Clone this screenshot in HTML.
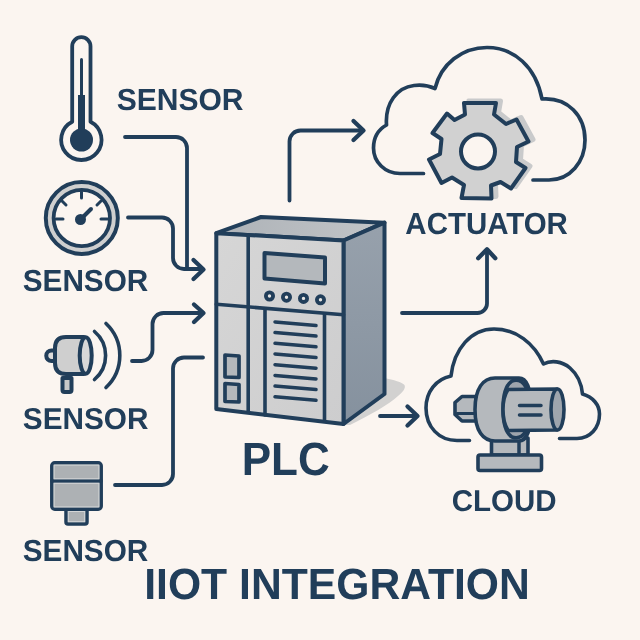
<!DOCTYPE html>
<html lang="en">
<head>
<meta charset="utf-8">
<title>IIOT Integration</title>
<style>
html,body{margin:0;padding:0;background:#fbf5f0;}
body{width:640px;height:640px;overflow:hidden;}
svg{display:block;will-change:transform;}
text{font-family:"Liberation Sans",sans-serif;font-weight:bold;fill:#213e5a;text-rendering:geometricPrecision;}
.ln{fill:none;stroke:#213e5a;stroke-width:4;stroke-linecap:round;stroke-linejoin:round;}
#connectors{stroke-width:3.8px;}
#connectors .ah{stroke-width:4.3px;}
#cloud .st,#cloud .ln{stroke-width:3.6px;}
.st{stroke:#213e5a;stroke-width:4;stroke-linejoin:round;stroke-linecap:round;}
</style>
</head>
<body>
<svg width="640" height="640" viewBox="0 0 640 640">
<rect width="640" height="640" fill="#fbf5f0"/>

<path d="M384 378 C394 380 402 382 404.5 385 C406 388 403 392 398 396 C388 405 370 415 350 425 L344 425 Z" fill="#d2d1d0"/>

<!-- connectors -->
<g class="ln" id="connectors">
  <path d="M125 137 H176 A11 11 0 0 1 187 148 V269"/>
  <path d="M128 217.5 H162 A11 11 0 0 1 173 228.5 V258 A11 11 0 0 0 184 269 H201"/>
  <path class="ah" d="M193.5 260 L203.5 269.5 L193.5 279"/>
  <path d="M132 361 H141.5 A11 11 0 0 0 152.5 350 V324 A11 11 0 0 1 163.5 313 H201"/>
  <path class="ah" d="M194 304.5 L203.5 313 L194 322"/>
  <path d="M115 485 H162 A11 11 0 0 0 173 474 V368.5 A11 11 0 0 1 184 357.5 H203"/>
  <path d="M289.5 200.5 V141.5 A11 11 0 0 1 300.5 130.5 H361"/>
  <path class="ah" d="M353.5 121 L363.5 130.5 L353.5 140"/>
  <path d="M402 313 H477.5 A9.5 9.5 0 0 0 487 303.5 V251.5"/>
  <path class="ah" d="M478.2 258.2 L487 249.3 L495.3 258.2"/>
  <path d="M380 416 H415"/>
  <path class="ah" d="M407.5 406.5 L417.5 416 L407.5 425.5"/>
</g>

<!-- thermometer -->
<g id="thermo">
  <path class="ln" style="stroke-width:3.8px" d="M72.2 121.8 V46.3 A9.15 9.15 0 0 1 90.5 46.3 V121.8 A20.2 20.2 0 1 1 72.2 121.8 Z"/>
  <circle cx="81.5" cy="140" r="11.5" fill="#213e5a"/>
  <rect x="78" y="95" width="7" height="40" fill="#213e5a"/>
  <rect x="80" y="58" width="3" height="40" rx="1.5" fill="#213e5a"/>
</g>

<!-- gauge -->
<g id="gauge">
  <circle cx="81.8" cy="218" r="34" fill="#cfcfcf"/>
  <circle cx="81.8" cy="218" r="36" fill="none" stroke="#213e5a" style="stroke-width:4px"/>
  <circle cx="81.8" cy="218" r="28.2" fill="#fbf5f0" stroke="#213e5a" style="stroke-width:3.8px"/>
  <g class="ln" style="stroke-width:3px">
    <path d="M81.5 192 V198"/>
    <path d="M56 219 H63"/>
    <path d="M101 219 H108"/>
    <path d="M62 201 L66 205"/>
    <path d="M101 201 L97 205"/>
    <path d="M81 219 L91 209" style="stroke-width:4px"/>
  </g>
  <circle cx="80.5" cy="219.5" r="5.5" fill="#213e5a"/>
</g>

<!-- sound sensor -->
<g id="sound">
  <path class="st" fill="#c9c9c9" d="M62.5 378 H71.5 V390 Q71.5 392 69.5 392 H64.5 Q62.5 392 62.5 390 Z"/>
  <path class="st" fill="#dcdbda" d="M56 350.5 H51.5 A5.25 5.25 0 0 0 51.5 361 H56 Z"/>
  <path class="st" fill="#cfcfcf" d="M66 337 H84 V374 H66 Q55 374 55 363 V348 Q55 337 66 337 Z"/>
  <ellipse class="st" cx="85.7" cy="355.5" rx="6" ry="18.3" fill="#d8d8d8"/>
  
  <path class="ln" style="stroke-width:3.6px" d="M94.5 331.5 A31.5 31.5 0 0 1 94.5 379.5"/>
  <path class="ln" style="stroke-width:3.6px" d="M106 323.5 A44 44 0 0 1 106 387.5"/>
</g>

<!-- box sensor -->
<g id="boxsensor">
  <rect class="st" style="stroke-width:3.5px" x="66" y="508" width="21" height="16" rx="2" fill="#adb1b4"/>
  <rect class="st" style="stroke-width:3.5px" x="51.8" y="462.8" width="49.4" height="46.4" rx="3" fill="#adb1b4"/>
  <path class="ln" style="stroke-width:3.5px" d="M52 481 H101"/>
  <g fill="none" stroke="#d3d5d6" style="stroke-width:1px">
    <rect x="54.1" y="465.1" width="44.8" height="13.7"/>
    <rect x="54.1" y="483.3" width="44.8" height="23.6"/>
    <rect x="68.3" y="511.5" width="16.4" height="10.2"/>
  </g>
</g>

<!-- PLC -->
<g id="plc">
  <defs>
    <linearGradient id="gtop" x1="0" y1="0" x2="1" y2="0"><stop offset="0" stop-color="#adb2b7"/><stop offset="1" stop-color="#c2c5c8"/></linearGradient>
    <linearGradient id="gside" x1="0" y1="0" x2="0" y2="1"><stop offset="0" stop-color="#97a1ac"/><stop offset="1" stop-color="#85919e"/></linearGradient>
    <linearGradient id="gfront" x1="0" y1="0" x2="1" y2="1"><stop offset="0" stop-color="#d6d6d6"/><stop offset="1" stop-color="#cdcdce"/></linearGradient>
  </defs>
  <polygon class="st" points="216.3,233.2 261,217 384.5,222.7 343.5,240.5" fill="url(#gtop)"/>
  <polygon class="st" points="343.5,240.5 384.5,222.7 384.5,394 343.5,424" fill="url(#gside)"/>
  <polygon class="st" points="216.3,233.2 343.5,240.5 343.5,424 216.3,409" fill="url(#gfront)"/>
  <g class="ln" style="stroke-width:3.6px">
    <path d="M248.2 235.5 V412"/>
    <path d="M216.3 304.2 L343.5 314.8"/>
    <path d="M265 309.5 V415"/>
    <path d="M324.5 314 V421"/>
  </g>
  <polygon class="st" points="264.5,253 325,257.5 325,283.5 264.5,278.5" fill="#b4b8bc"/>
  <g fill="#e8e6e3" stroke="#213e5a" style="stroke-width:3.8px">
    <circle cx="269.5" cy="296" r="3.6"/>
    <circle cx="286.5" cy="297.2" r="3.6"/>
    <circle cx="303.5" cy="298.4" r="3.6"/>
    <circle cx="320.5" cy="299.8" r="3.6"/>
  </g>
  <g class="ln" style="stroke-width:3.5px">
    <path d="M275 322 L316 325.5"/>
    <path d="M275 332.6 L316 336.1"/>
    <path d="M275 343.3 L316 346.8"/>
    <path d="M275 354 L316 357.5"/>
    <path d="M275 364.7 L316 368.2"/>
    <path d="M275 375.4 L316 378.9"/>
    <path d="M275 386.1 L316 389.6"/>
    <path d="M275 396.8 L316 400.3"/>
  </g>
  <polygon class="st" style="stroke-width:3.7px" points="225,355 239,356 239,377.5 225,377" fill="#b4b8bc"/>
  <polygon class="st" style="stroke-width:3.7px" points="225,383.5 239,384.5 239,402 225,401.5" fill="#b4b8bc"/>
</g>

<!-- actuator cloud -->
<g id="actuator">
  <path class="ln" style="stroke-width:3.7px" d="M423.5 173.5 H400 C385 173.5 373.5 162 373.5 148 C373.5 137 378.5 129.5 386.5 125 C385 103 397 87.5 414 85.5 C422 84.5 429.5 86 435 88.5 C441 64 462 47.5 487 47.5 C514 47.5 536 67 542 99 C568 97 585 116 585 140 C585 162 570 180 549 180 H533"/>
  <clipPath id="gsh"><rect x="462" y="90" width="80" height="120"/></clipPath>
  <polygon points="464,103 496,103 494,114.5 506,124 516.5,119.5 528.5,141.5 517,147 516,162 525.5,168 511,188.5 500.5,182 491,185.5 491.5,198.5 461.5,198 464,185 452,177.5 441.5,183 429,159.5 440,154 441.5,139 432.5,133 447,113.5 454.5,120 465,114.5" fill="#c9cacb" stroke="#c9cacb" style="stroke-width:5px" stroke-linejoin="round" transform="translate(4.5,-2)" clip-path="url(#gsh)"/>
  <polygon class="st" points="464,103 496,103 494,114.5 506,124 516.5,119.5 528.5,141.5 517,147 516,162 525.5,168 511,188.5 500.5,182 491,185.5 491.5,198.5 461.5,198 464,185 452,177.5 441.5,183 429,159.5 440,154 441.5,139 432.5,133 447,113.5 454.5,120 465,114.5" fill="#d1d1d1"/>
  <circle class="st" cx="478" cy="151.5" r="17" fill="#fbf5f0"/>
</g>

<!-- cloud with motor -->
<g id="cloud">
  <path class="ln" style="stroke-width:3.6px" d="M469.5 440.5 H457 C439 440.5 426 427 426 408 C426 392 436 379 451 376 C454 349 471 329 494 329 C516 329 534 343 543.5 364 C551 360 562 361 570 368 C577 374 581.5 383 582.5 394 C593 397 599.5 405 599.5 414 C599.5 428 590 438.5 577 438.5 H559.5"/>
  <rect class="st" x="491.5" y="438" width="36.5" height="17" fill="#b5b9bd"/>
  <path class="ln" style="stroke-width:3.5px" d="M519 441 V453"/>
  <rect class="st" x="478" y="455" width="63.5" height="15.5" rx="2" fill="#b5b9bd"/>
  <polygon class="st" points="476,396.5 462,396.5 455,402.5 455,414.5 462,421 476,421" fill="#b5b9bd"/>
  <path class="ln" style="stroke-width:3px" d="M457 413.5 H474"/>
  <path class="st" fill="#b5b9bd" d="M495 378 H519 C527 378 531 390.5 531 409.5 C531 428.5 527 441 519 441 H495 C483 441 475 431 475 409.5 C475 388.5 483 378 495 378 Z"/>
  <path class="st" fill="#9ea5ad" d="M512 381 C504 386 503 398 503 409 C503 420 504 432 512 437 C524 441 530 428 530 409 C530 390 524 377 512 381 Z"/>
  <path class="st" fill="#b5b9bd" d="M508 389.5 L557 389 V430 L508 430.5 C504 424 503 417 503 409.5 C503 402 504 395.5 508 389.5 Z"/>
  <ellipse class="st" cx="557.5" cy="409.5" rx="6.5" ry="20.5" fill="#9ea5ad"/>
  <path class="ln" style="stroke-width:3.5px" d="M519.5 405.5 H541 M519.5 415 H541"/>
</g>

<!-- labels -->
<g id="labels">
<text id="t1" x="116.64" y="110" font-size="30.5" textLength="126.89" lengthAdjust="spacingAndGlyphs">SENSOR</text>
<text id="t2" x="22.7" y="291" font-size="30.4" textLength="125.66" lengthAdjust="spacingAndGlyphs">SENSOR</text>
<text id="t3" x="22.83" y="429" font-size="30" textLength="125.6" lengthAdjust="spacingAndGlyphs">SENSOR</text>
<text id="t4" x="22.7" y="561" font-size="30.4" textLength="125.66" lengthAdjust="spacingAndGlyphs">SENSOR</text>
<text id="t5" x="405.36" y="234" font-size="30.5" textLength="162.53" lengthAdjust="spacingAndGlyphs">ACTUATOR</text>
<text id="t6" x="241.72" y="475" font-size="46.7" textLength="87.96" lengthAdjust="spacingAndGlyphs">PLC</text>
<text id="t7" x="451.76" y="511" font-size="30" textLength="104.92" lengthAdjust="spacingAndGlyphs">CLOUD</text>
<text id="t8" x="144.19" y="599" font-size="43.6" textLength="385.67" lengthAdjust="spacingAndGlyphs">IIOT INTEGRATION</text>
</g>
</svg>
</body>
</html>
